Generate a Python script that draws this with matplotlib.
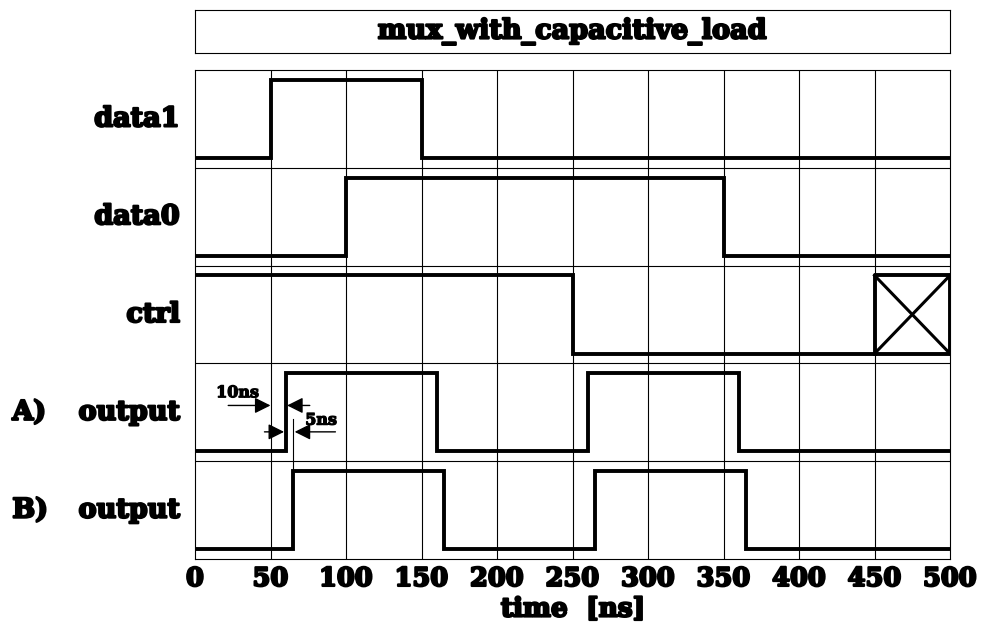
import numpy as np
from matplotlib import pyplot as plt
import matplotlib.patheffects as pe

# signal data: transition times (ns) and levels between them
labels = ['data1', 'data0', 'ctrl', 'output', 'output']
prefixes = ['', '', '', 'A)', 'B)']
data1_t = [0, 50, 150, 500]
data1_v = [0, 1, 0]
data0_t = [0, 100, 350, 500]
data0_v = [0, 1, 0]
ctrl_t = [0, 250, 450]
ctrl_v = [1, 0]
ctrl_x = [450, 500]  # unknown state
outA_t = [0, 60, 160, 260, 360, 500]
outA_v = [0, 1, 0, 1, 0]
outB_t = [0, 65, 165, 265, 365, 500]
outB_v = [0, 1, 0, 1, 0]
xticks = [0, 50, 100, 150, 200, 250, 300, 350, 400, 450, 500]

plt.rcParams['font.family'] = ['DejaVu Serif']
plt.rcParams['font.weight'] = 'bold'

# heavy look for text
heavy = [pe.withStroke(linewidth=1.6, foreground='black')]
heavy_s = [pe.withStroke(linewidth=0.9, foreground='black')]

W, H = 983, 623
fig = plt.figure(figsize=(W / 100, H / 100), dpi=100)

# title box
tax = fig.add_axes([195 / W, 1 - 53 / H, 755 / W, 43 / H])
tax.set_xticks([])
tax.set_yticks([])
tax.text(0.5, 0.5, 'mux_with_capacitive_load', ha='center', va='center',
         fontsize=19.5, fontweight='bold', transform=tax.transAxes,
         path_effects=heavy)

ax = fig.add_axes([195 / W, 1 - 559 / H, 755 / W, 489 / H])
ax.set_xlim(0, 500)
ax.set_ylim(0, 5)

lo, hi = 0.1, 0.9


def level(row, v):
    base = 4 - row
    return base + (hi if v else lo)


def draw_signal(row, t, v):
    ys = [level(row, x) for x in v]
    ax.step(t, ys + [ys[-1]], where='post', color='black', lw=2.8,
            solid_joinstyle='miter', zorder=3)


draw_signal(0, data1_t, data1_v)
draw_signal(1, data0_t, data0_v)
draw_signal(2, ctrl_t, ctrl_v)
# X box for ctrl
y0, y1 = level(2, 0), level(2, 1)
ax.plot([ctrl_x[0], ctrl_x[1], ctrl_x[1], ctrl_x[0], ctrl_x[0]],
        [y0, y0, y1, y1, y0], color='black', lw=2.8, zorder=3)
ax.plot([ctrl_x[0], ctrl_x[1]], [y0, y1], color='black', lw=2.2, zorder=3)
ax.plot([ctrl_x[0], ctrl_x[1]], [y1, y0], color='black', lw=2.2, zorder=3)
draw_signal(3, outA_t, outA_v)
draw_signal(4, outB_t, outB_v)

# grid
for x in xticks[1:-1]:
    ax.axvline(x, color='black', lw=0.8, zorder=1)
for y in [1, 2, 3, 4]:
    ax.axhline(y, color='black', lw=0.8, zorder=1)

# row labels
for i, (lab, pre) in enumerate(zip(labels, prefixes)):
    yc = 4 - i + 0.5
    ax.text(-10, yc, lab, ha='right', va='center', fontsize=19.5,
            fontweight='bold', path_effects=heavy)
    if pre:
        ax.text(-121, yc, pre, ha='left', va='center', fontsize=19.5,
                fontweight='bold', path_effects=heavy)

# timing annotations
aprops = dict(arrowstyle='-|>', color='black', lw=1.0, mutation_scale=24,
              shrinkA=0, shrinkB=0)
ax.annotate('', xy=(50, 1.57), xytext=(22, 1.57), arrowprops=aprops)
ax.annotate('', xy=(61, 1.57), xytext=(76, 1.57), arrowprops=aprops)
ax.text(14, 1.70, '10ns', ha='left', va='center', fontsize=11.5,
        fontweight='bold', path_effects=heavy_s)
ax.annotate('', xy=(59, 1.30), xytext=(46, 1.30), arrowprops=aprops)
ax.annotate('', xy=(66, 1.30), xytext=(93, 1.30), arrowprops=aprops)
ax.plot([65, 65], [0.9, 1.43], color='black', lw=0.8, zorder=2)
ax.text(73, 1.42, '5ns', ha='left', va='center', fontsize=11.5,
        fontweight='bold', path_effects=heavy_s)

ax.set_xticks(xticks)
ax.set_yticks([])
ax.tick_params(axis='x', length=0, pad=5, labelsize=18.5)
for lab in ax.get_xticklabels():
    lab.set_fontweight('bold')
    lab.set_path_effects(heavy)
fig.text(573 / W, 1 - 609 / H, 'time  [ns]', ha='center', va='center',
         fontsize=19, fontweight='bold', path_effects=heavy)

plt.savefig('out.png', dpi=100)
